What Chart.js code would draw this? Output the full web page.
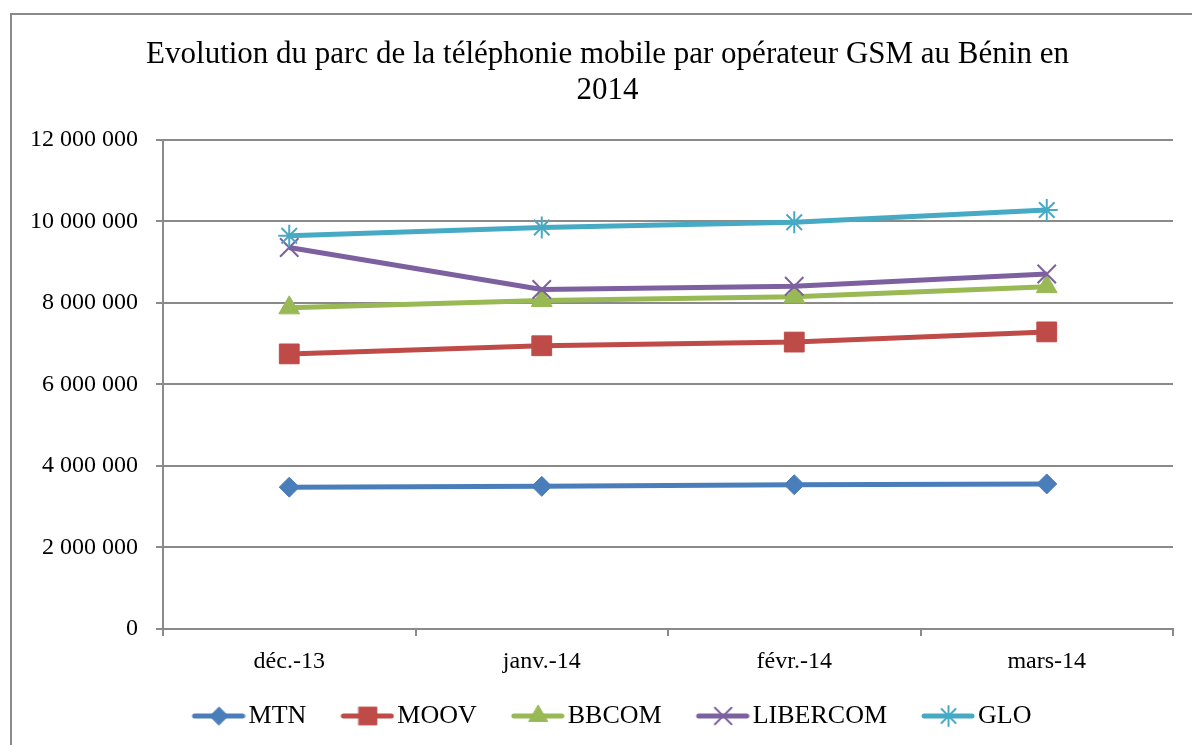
<!DOCTYPE html>
<html>
<head>
<meta charset="utf-8">
<script src="https://cdn.jsdelivr.net/npm/chart.js@4.4.1/dist/chart.umd.min.js"></script>
<style>
html,body{margin:0;padding:0;background:#fff;}
#wrap{width:1192px;height:745px;position:relative;}
</style>
</head>
<body>
<div id="wrap"><canvas id="c" width="1192" height="745"></canvas></div>
<script>
const categories = ['déc.-13', 'janv.-14', 'févr.-14', 'mars-14'];
const seriesNames = ['MTN', 'MOOV', 'BBCOM', 'LIBERCOM', 'GLO'];
const mtn      = [3480000, 3500000, 3540000, 3560000];
const moov     = [6750000, 6950000, 7040000, 7290000];
const bbcom    = [7880000, 8060000, 8150000, 8400000];
const libercom = [9360000, 8330000, 8410000, 8710000];
const glo      = [9650000, 9850000, 9980000, 10280000];
const titleLines = ['Evolution du parc de la téléphonie mobile par opérateur GSM au Bénin en', '2014'];

const FONT = "'Liberation Serif', 'Times New Roman', serif";
const colors = ['#4A7EBB', '#BE4B48', '#98B954', '#7D60A0', '#46AAC5'];
const styles = [
  {pointStyle:'rectRot', radius:10, bw:1},
  {pointStyle:'rect', radius:14, bw:1},
  {pointStyle:'triangle', radius:12, bw:1},
  {pointStyle:'crossRot', radius:13, bw:2},
  {pointStyle:'star', radius:11, bw:2}
];
const values = [mtn, moov, bbcom, libercom, glo];

function fmt(v){
  return String(Math.round(v)).replace(/\B(?=(\d{3})+(?!\d))/g, ' ');
}

function legendIcon(i){
  const cv = document.createElement('canvas');
  cv.width = 66; cv.height = 26;
  const ctx = cv.getContext('2d');
  ctx.strokeStyle = colors[i];
  ctx.fillStyle = colors[i];
  ctx.lineWidth = 5;
  ctx.lineCap = 'round';
  ctx.beginPath();
  ctx.moveTo(15, 13); ctx.lineTo(63, 13);
  ctx.stroke();
  const s = styles[i];
  ctx.lineWidth = s.bw;
  if (Chart.helpers && Chart.helpers.drawPoint) {
    Chart.helpers.drawPoint(ctx, {pointStyle:s.pointStyle, radius:s.radius*0.9, rotation:0, borderWidth:s.bw}, 39.5, 13);
  }
  return cv;
}

const datasets = seriesNames.map((name, i) => ({
  label: name,
  data: values[i],
  borderColor: colors[i],
  backgroundColor: colors[i],
  borderWidth: 5,
  pointStyle: styles[i].pointStyle,
  pointRadius: styles[i].radius,
  pointBorderWidth: styles[i].bw,
  pointBackgroundColor: colors[i],
  pointBorderColor: colors[i],
  tension: 0,
  order: 5 - i
}));

const frame = {
  id: 'frame',
  afterLayout(chart){
    if (chart.titleBlock) { chart.titleBlock.left += 30; }
    if (chart.legend) {
      chart.legend.left += 36;
      chart.legend.top -= 6;
      chart.legend.bottom -= 6;
    }
  },
  beforeDraw(chart){
    const ctx = chart.ctx;
    ctx.save();
    ctx.fillStyle = '#fff';
    ctx.fillRect(0, 0, chart.width, chart.height);
    ctx.strokeStyle = '#8a8a8a';
    ctx.lineWidth = 2;
    ctx.strokeRect(11, 14, 1300, 900);
    ctx.restore();
  }
};

new Chart(document.getElementById('c'), {
  type: 'line',
  data: { labels: categories, datasets },
  plugins: [frame],
  options: {
    responsive: false,
    animation: false,
    devicePixelRatio: 1,
    layout: { padding: { left: 12, right: 19, top: 0, bottom: 0 } },
    plugins: {
      tooltip: { enabled: false },
      title: {
        display: true,
        text: titleLines,
        color: '#000',
        font: { family: FONT, size: 31, weight: 'normal', lineHeight: 1.16 },
        padding: { top: 37, bottom: 31 }
      },
      legend: {
        position: 'bottom',
        labels: {
          color: '#000',
          font: { family: FONT, size: 26 },
          usePointStyle: true,
          pointStyleWidth: 46,
          padding: 32,
          generateLabels(chart){
            return chart.data.datasets.map((ds, i) => ({
              text: ds.label,
              pointStyle: legendIcon(i),
              fillStyle: colors[i],
              strokeStyle: colors[i],
              lineWidth: 0,
              hidden: false,
              datasetIndex: i,
              fontColor: '#000'
            }));
          }
        }
      }
    },
    scales: {
      x: {
        offset: true,
        grid: { display: true, drawOnChartArea: false, drawTicks: true, tickLength: 7, offset: true, color: '#8a8a8a', lineWidth: 2 },
        border: { display: true, color: '#8a8a8a', width: 2 },
        ticks: { color: '#000', font: { family: FONT, size: 24 }, padding: 11, maxRotation: 0 },
        afterFit(scale){ scale.height = 48; }
      },
      y: {
        min: 0, max: 12000000,
        ticks: { stepSize: 2000000, color: '#000', font: { family: FONT, size: 24 }, padding: 18, callback: (v) => fmt(v) },
        grid: { color: '#8a8a8a', lineWidth: 2, tickLength: 7 },
        border: { display: true, color: '#8a8a8a', width: 2 },
        afterFit(scale){ scale.width = 151; }
      }
    }
  }
});
</script>
</body>
</html>
